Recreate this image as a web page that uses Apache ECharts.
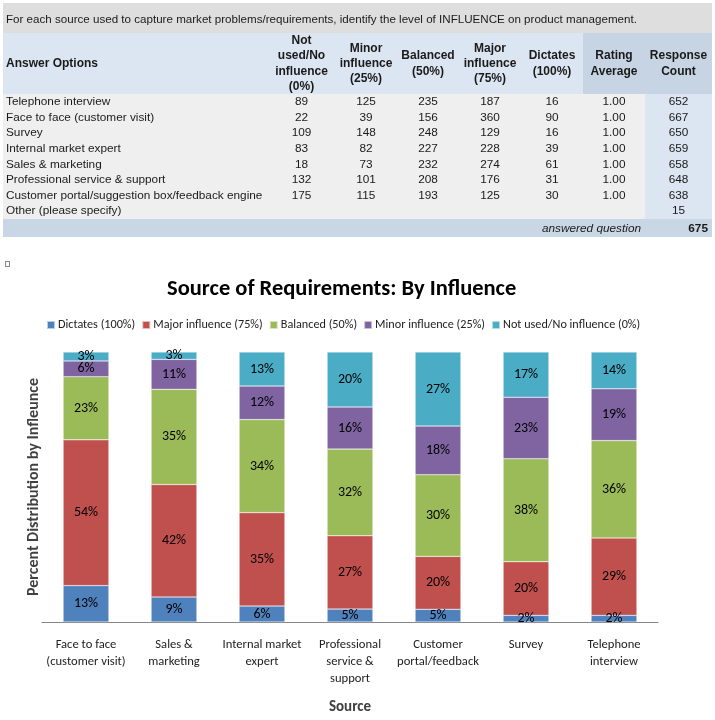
<!DOCTYPE html>
<html>
<head>
<meta charset="utf-8">
<script src="https://cdn.jsdelivr.net/npm/echarts@6/dist/echarts.min.js"></script>
<style>
  html, body { margin: 0; padding: 0; background: #fff; }
  #chart { position: absolute; left: 0; top: 0; width: 715px; height: 720px; }
  #survey { position: absolute; left: 3px; top: 3px; width: 709px; z-index: 2; }
  table { border-collapse: collapse; table-layout: fixed; width: 709px;
    font-family: "Liberation Sans", Arial, sans-serif; font-size: 11.8px; color: #1a1a1a; }
  td, th { padding: 0 2px; overflow: hidden; white-space: nowrap; }
  .q td { background: #dedede; height: 30px; padding-left: 3px; font-size: 11.6px; }
  .head th { background: #dce6f2; height: 60px; line-height: 15.3px; white-space: normal; font-weight: bold; font-size: 12px; }
  .head th.first { text-align: left; padding-left: 3px; }
  .head th.dark { background: #c6d4e4; }
  .row td { background: #efefef; height: 15.6px; line-height: 15.6px; text-align: center; padding: 0; }
  .row td.first { text-align: left; padding-left: 3px; }
  .row td.resp { background: #dce6f2; }
  .foot td { background: #c9d6e4; height: 18px; line-height: 18px; }
  .foot .ans { text-align: right; font-style: italic; padding-right: 4px; }
  .foot .tot { text-align: right; font-weight: bold; padding-right: 4px; }
  #mark { position: absolute; left: 5px; top: 261px; width: 3px; height: 4px; border: 1px solid #888; z-index: 2; }
</style>
</head>
<body>
<div id="chart"></div>
<div id="survey"></div>
<div id="mark"></div>
<script>
// survey table, in the order it was asked
const question = 'For each source used to capture market problems/requirements, identify the level of INFLUENCE on product management.'
const columnHeads = ['Not used/No influence (0%)', 'Minor influence (25%)', 'Balanced (50%)', 'Major influence (75%)', 'Dictates (100%)', 'Rating Average', 'Response Count']
const answerOptions = ['Telephone interview', 'Face to face (customer visit)', 'Survey', 'Internal market expert', 'Sales & marketing', 'Professional service & support', 'Customer portal/suggestion box/feedback engine', 'Other (please specify)']
const notUsed = [89, 22, 109, 83, 18, 132, 175, null]
const minorInf = [125, 39, 148, 82, 73, 101, 115, null]
const balanced = [235, 156, 248, 227, 232, 208, 193, null]
const majorInf = [187, 360, 129, 228, 274, 176, 125, null]
const dictates = [16, 90, 16, 39, 61, 31, 30, null]
const ratingAvg = ['1.00', '1.00', '1.00', '1.00', '1.00', '1.00', '1.00', '']
const responseCount = [652, 667, 650, 659, 658, 648, 638, 15]
const answeredQuestion = 675

// chart: sources in plotted order, with their axis labels
const chartSources = ['Face to face (customer visit)', 'Sales & marketing', 'Internal market expert', 'Professional service & support', 'Customer portal/suggestion box/feedback engine', 'Survey', 'Telephone interview']
const chartLabels = ['Face to face\n(customer visit)', 'Sales &\nmarketing', 'Internal market\nexpert', 'Professional\nservice &\nsupport', 'Customer\nportal/feedback', 'Survey', 'Telephone\ninterview']
const seriesNames = ['Dictates (100%)', 'Major influence (75%)', 'Balanced (50%)', 'Minor influence (25%)', 'Not used/No influence (0%)']
const seriesColors = ['#4f81bd', '#c0504d', '#9bbb59', '#8064a2', '#4bacc6']

// ---- table ----
function buildTable() {
  let html = '<table><colgroup><col style="width:265px"><col style="width:67px"><col style="width:62px"><col style="width:62px"><col style="width:62px"><col style="width:62px"><col style="width:62px"><col style="width:67px"></colgroup>'
  html += '<tr class="q"><td colspan="8">' + question + '</td></tr>'
  html += '<tr class="head"><th class="first">Answer Options</th>'
  columnHeads.forEach((h, i) => {
    html += '<th' + (i >= 5 ? ' class="dark"' : '') + '>' + h + '</th>'
  })
  html += '</tr>'
  answerOptions.forEach((name, i) => {
    const cells = [notUsed[i], minorInf[i], balanced[i], majorInf[i], dictates[i], ratingAvg[i]]
    html += '<tr class="row"><td class="first">' + name.replace('&', '&amp;') + '</td>'
    cells.forEach(v => { html += '<td>' + (v === null ? '' : v) + '</td>' })
    html += '<td class="resp">' + responseCount[i] + '</td></tr>'
  })
  html += '<tr class="foot"><td colspan="7" class="ans">answered question</td><td class="tot">' + answeredQuestion + '</td></tr>'
  html += '</table>'
  document.getElementById('survey').innerHTML = html
}
buildTable()

// ---- chart ----
const countCols = [dictates, majorInf, balanced, minorInf, notUsed]

// share of each answer within a source (counts -> percent of that row)
function shareData(col) {
  return chartSources.map(src => {
    const i = answerOptions.indexOf(src)
    const total = notUsed[i] + minorInf[i] + balanced[i] + majorInf[i] + dictates[i]
    return col[i] / total * 100
  })
}

const FONT = 'Carlito, Lato, sans-serif'
const chart = echarts.init(document.getElementById('chart'))

chart.setOption({
  animation: false,
  title: {
    text: 'Source of Requirements: By Influence',
    left: 162,
    top: 273,
    textStyle: { fontFamily: FONT, fontSize: 22.5, fontWeight: 'bold', color: '#000' }
  },
  legend: {
    top: 314,
    left: 41,
    itemWidth: 8,
    itemHeight: 8,
    itemGap: 6,
    icon: 'rect',
    textStyle: { fontFamily: FONT, fontSize: 12.2, color: '#222', padding: [0, 0, 0, -2] },
    data: seriesNames
  },
  grid: { left: 42, right: 57, top: 352, bottom: 98 },
  xAxis: {
    type: 'category',
    data: chartLabels,
    name: 'Source',
    nameLocation: 'middle',
    nameGap: 78,
    nameTextStyle: { fontFamily: FONT, fontSize: 15, fontWeight: 'bold', color: '#404040' },
    axisLine: { lineStyle: { color: '#868686', width: 1 } },
    axisTick: { show: false },
    axisLabel: { fontFamily: FONT, fontSize: 12.6, color: '#222', lineHeight: 17, margin: 14, interval: 0 }
  },
  yAxis: {
    type: 'value',
    min: 0,
    max: 100,
    name: 'Percent Distribution by Infleunce',
    nameLocation: 'middle',
    nameGap: 0,
    nameTextStyle: { fontFamily: FONT, fontSize: 16, fontWeight: 'bold', color: '#404040' },
    axisLine: { show: false },
    axisTick: { show: false },
    axisLabel: { show: false },
    splitLine: { show: false }
  },
  series: seriesNames.map((name, k) => ({
    name: name,
    type: 'bar',
    stack: 'share',
    barWidth: '52%',
    data: shareData(countCols[k]),
    itemStyle: { color: seriesColors[k], borderColor: 'rgba(255,255,255,0.6)', borderWidth: 0.5 },
    label: {
      show: true,
      position: 'inside',
      fontFamily: FONT,
      fontSize: 14,
      color: '#000',
      formatter: p => Math.round(p.value) + '%'
    }
  }))
})
</script>
</body>
</html>
